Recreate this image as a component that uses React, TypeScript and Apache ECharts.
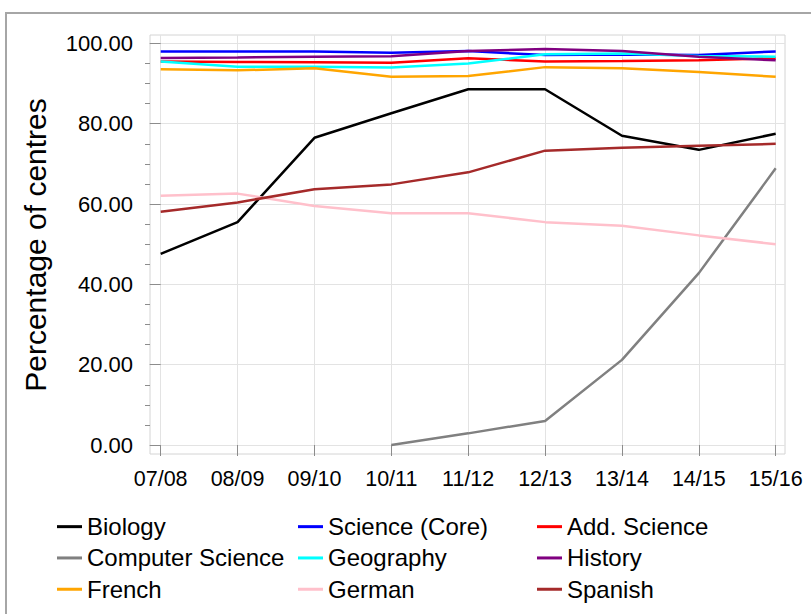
import React, { useEffect, useRef } from "react";
import * as echarts from "echarts";

const categories = ["07/08", "08/09", "09/10", "10/11", "11/12", "12/13", "13/14", "14/15", "15/16"];
const biology = [47.6, 55.5, 76.5, 82.6, 88.6, 88.6, 77.0, 73.5, 77.5];
const scienceCore = [98.0, 98.0, 98.0, 97.7, 98.1, 97.1, 97.25, 97.1, 98.0];
const addScience = [95.5, 95.4, 95.3, 95.2, 96.3, 95.5, 95.6, 95.8, 96.3];
const computerScience = [null, null, null, 0, 2.9, 6.0, 21.2, 42.8, 68.9];
const geography = [95.5, 94.2, 94.2, 94.0, 95.0, 97.3, 97.5, 96.9, 96.7];
const history = [96.4, 96.5, 96.7, 96.8, 98.1, 98.6, 98.1, 96.7, 95.8];
const french = [93.6, 93.3, 93.8, 91.7, 91.9, 94.1, 93.8, 92.9, 91.7];
const german = [62.1, 62.6, 59.5, 57.7, 57.7, 55.5, 54.6, 52.2, 50.0];
const spanish = [58.1, 60.4, 63.7, 64.9, 67.9, 73.3, 74.0, 74.5, 75.0];

const yMajorTicks = [0, 20, 40, 60, 80, 100];
const yMinorTicks = [5, 10, 15, 25, 30, 35, 45, 50, 55, 65, 70, 75, 85, 90, 95];

const seriesDefs: { name: string; values: (number | null)[]; color: string }[] = [
  { name: "Biology", values: biology, color: "#000000" },
  { name: "Science (Core)", values: scienceCore, color: "#0000ff" },
  { name: "Add. Science", values: addScience, color: "#ff0000" },
  { name: "Computer Science", values: computerScience, color: "#808080" },
  { name: "Geography", values: geography, color: "#00ffff" },
  { name: "History", values: history, color: "#800080" },
  { name: "French", values: french, color: "#ffa500" },
  { name: "German", values: german, color: "#ffc0cb" },
  { name: "Spanish", values: spanish, color: "#a52a2a" },
];

const FONT = "'Liberation Sans', Arial, sans-serif";

export default function App() {
  const ref = useRef<HTMLDivElement>(null);
  useEffect(() => {
    if (!ref.current) return;
    const chart = echarts.init(ref.current, null, { renderer: "svg" });
    const catIdx = categories.map((_, i) => i);
    const legendCommon = {
      orient: "vertical",
      top: 511,
      padding: 0,
      itemGap: 0,
      itemWidth: 25,
      itemHeight: 3,
      icon: "rect",
      selectedMode: false,
      textStyle: { fontFamily: FONT, fontSize: 24, color: "#000", lineHeight: 31.3 },
    };
    const option: any = {
      animation: false,
      backgroundColor: "#fff",
      grid: {
        left: 150,
        right: 26,
        top: 35,
        bottom: 160,
        show: true,
        borderColor: "#d4d4d4",
        borderWidth: 1,
        backgroundColor: "transparent",
      },
      graphic: [
        {
          type: "rect",
          shape: { x: 6, y: 13, width: 900, height: 700 },
          style: { fill: "none", stroke: "#a6a6a6", lineWidth: 2 },
          z: -10,
          silent: true,
        },
        {
          type: "text",
          x: 35,
          y: 245,
          rotation: Math.PI / 2,
          style: {
            text: "Percentage of centres",
            fontFamily: FONT,
            fontSize: 30,
            fill: "#000",
            align: "center",
            verticalAlign: "middle",
          },
        },
      ],
      legend: [
        { ...legendCommon, left: 57, data: ["Biology", "Computer Science", "French"] },
        { ...legendCommon, left: 298, data: ["Science (Core)", "Geography", "German"] },
        { ...legendCommon, left: 537, data: ["Add. Science", "History", "Spanish"] },
      ],
      xAxis: {
        type: "value",
        min: -0.139,
        max: 8.121,
        axisLine: { show: false },
        axisTick: {
          show: true,
          length: 11,
          customValues: catIdx,
          lineStyle: { color: "#8c8c8c", width: 1 },
        },
        axisLabel: {
          customValues: catIdx,
          formatter: (v: number) => categories[Math.round(v)] ?? "",
          fontFamily: FONT,
          fontSize: 21.5,
          color: "#000",
          margin: 14,
        },
        splitLine: { show: true, lineStyle: { color: "#e3e3e3", width: 1 } },
      },
      yAxis: [
        {
          type: "value",
          min: -2.24,
          max: 102.1,
          axisLine: { show: false },
          axisTick: {
            show: true,
            length: 11,
            customValues: yMajorTicks,
            lineStyle: { color: "#8c8c8c", width: 1 },
          },
          axisLabel: {
            customValues: yMajorTicks,
            formatter: (v: number) => v.toFixed(2),
            fontFamily: FONT,
            fontSize: 22,
            color: "#000",
            margin: 17,
          },
          splitLine: { show: true, lineStyle: { color: "#e3e3e3", width: 1 } },
        },
        {
          type: "value",
          min: -2.24,
          max: 102.1,
          position: "left",
          axisLine: { show: false },
          axisTick: {
            show: true,
            length: 5,
            customValues: yMinorTicks,
            lineStyle: { color: "#8c8c8c", width: 1 },
          },
          axisLabel: { show: false },
          splitLine: { show: false },
        },
      ],
      series: seriesDefs.map((s) => ({
        name: s.name,
        type: "line",
        xAxisIndex: 0,
        yAxisIndex: 0,
        symbol: "none",
        color: s.color,
        lineStyle: { color: s.color, width: 2.5 },
        data: s.values.map((v, i) => [i, v]),
      })),
    };
    chart.setOption(option);
    return () => chart.dispose();
  }, []);
  return (
    <div
      ref={ref}
      style={{ position: "fixed", left: 0, top: 0, width: 811, height: 614, background: "#fff" }}
    />
  );
}
